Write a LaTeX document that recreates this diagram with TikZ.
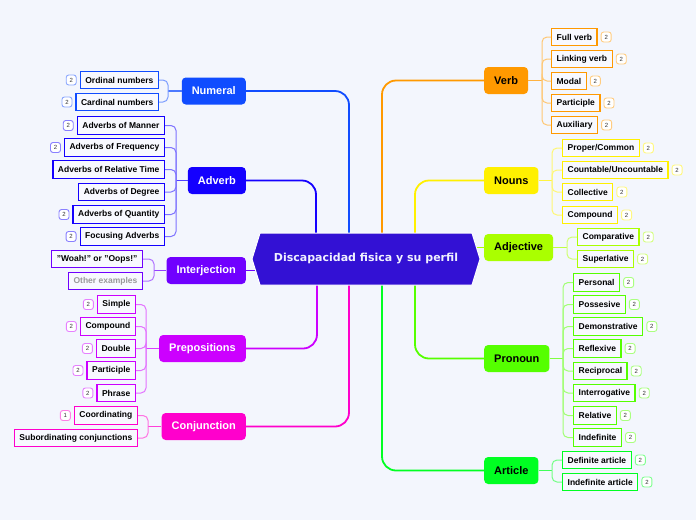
\documentclass[tikz,border=0pt]{standalone}
\usepackage{fontspec}
\setmainfont{Liberation Sans}
\newfontfamily\hexfont{DejaVu Sans}
\definecolor{bgC}{RGB}{243,246,253}
\definecolor{leafbg}{RGB}{248,249,255}
\definecolor{centerC}{RGB}{51,17,212}
\definecolor{numC}{RGB}{16,76,255}
\definecolor{advC}{RGB}{20,0,255}
\definecolor{intC}{RGB}{112,0,255}
\definecolor{prepC}{RGB}{204,0,255}
\definecolor{conjC}{RGB}{255,0,204}
\definecolor{verbC}{RGB}{255,153,0}
\definecolor{nounC}{RGB}{255,240,0}
\definecolor{adjC}{RGB}{170,255,0}
\definecolor{proC}{RGB}{85,255,0}
\definecolor{artC}{RGB}{0,255,34}
\tikzset{
  mainbox/.style={fill=#1, rounded corners=4pt, minimum height=27pt, inner xsep=10pt, inner ysep=0pt, font=\bfseries\fontsize{11}{13}\selectfont, text=white},
  leaf/.style={draw=#1, line width=1.3pt, fill=leafbg, minimum height=17.5pt, inner xsep=5pt, inner ysep=0pt, font=\bfseries\fontsize{8.5}{10}\selectfont, text=black},
  badge/.style={draw=#1!50!white, line width=0.9pt, fill=white, rounded corners=2.5pt, minimum size=10pt, inner sep=0pt, font=\fontsize{6}{7}\selectfont, text=black!80},
  mainline/.style={draw=#1, line width=1.8pt, rounded corners=14pt},
  stub/.style={draw=#1!75!white, line width=1.2pt},
  subline/.style={draw=#1!55!white, line width=1pt, rounded corners=5pt}
}
\begin{document}
\begin{tikzpicture}[x=1pt,y=-1pt]
\useasboundingbox[fill=bgC] (0,0) rectangle (696,520);

% ---------- hub coordinates on hexagon ----------
\coordinate (hNum) at (349,233);
\coordinate (hAdv) at (316,233);
\coordinate (hInt) at (255.4,270.5);
\coordinate (hPrep) at (317,285);
\coordinate (hConj) at (349,285);
\coordinate (hVerb) at (382,233);
\coordinate (hNoun) at (415,233);
\coordinate (hAdj) at (476.6,247.5);
\coordinate (hPro) at (415,285);
\coordinate (hArt) at (382,285);

% ---------- main nodes ----------
\node[mainbox=numC, anchor=east] (num) at (246,91) {Numeral};
\node[mainbox=advC, anchor=east] (adv) at (246,180.5) {Adverb};
\node[mainbox=intC, anchor=east] (int) at (246,270.5) {Interjection};
\node[mainbox=prepC, anchor=east] (prep) at (246,348.5) {Prepositions};
\node[mainbox=conjC, anchor=east] (conj) at (246,426.5) {Conjunction};
\node[mainbox=verbC, anchor=west, text=black] (verb) at (484,80.5) {Verb};
\node[mainbox=nounC, anchor=west, text=black] (noun) at (484,180.5) {Nouns};
\node[mainbox=adjC, anchor=west, text=black] (adj) at (484,247.5) {Adjective};
\node[mainbox=proC, anchor=west, text=black] (pro) at (484,358.5) {Pronoun};
\node[mainbox=artC, anchor=west, text=black] (art) at (484,470.5) {Article};

% ---------- main connectors ----------
\draw[mainline=numC] (num.east) -| (hNum);
\draw[mainline=advC] (adv.east) -| (hAdv);
\draw[mainline=intC] (int.east) -- (hInt);
\draw[mainline=prepC] (prep.east) -| (hPrep);
\draw[mainline=conjC] (conj.east) -| (hConj);
\draw[mainline=verbC] (verb.west) -| (hVerb);
\draw[mainline=nounC] (noun.west) -| (hNoun);
\draw[mainline=adjC] (adj.west) -- (hAdj);
\draw[mainline=proC] (pro.west) -| (hPro);
\draw[mainline=artC] (art.west) -| (hArt);

% ---------- center hexagon ----------
\path[fill=centerC, draw=white, line width=1pt] (260,233) -- (472,233) -- (480,259) -- (472,285) -- (260,285) -- (252,259) -- cycle;
\node[text=white!94!blue, font=\hexfont\bfseries\fontsize{11}{13}\selectfont] (center) at (366,259) {Discapacidad fisica y su perfil};

% ---------- Numeral children ----------
\node[leaf=numC, anchor=east] (ord) at (159,80) {Ordinal numbers};
\node[leaf=numC, anchor=east] (card) at (159,102) {Cardinal numbers};
\coordinate (bNum) at (168,91);
\draw[stub=numC] (num.west) -- (bNum);
\foreach \c in {ord,card} \draw[subline=numC] (bNum) |- (\c.east);

% ---------- Adverb children ----------
\node[leaf=advC, anchor=east] (a1) at (165,125.5) {Adverbs of Manner};
\node[leaf=advC, anchor=east] (a2) at (165,147.5) {Adverbs of Frequency};
\node[leaf=advC, anchor=east] (a3) at (165,169.5) {Adverbs of Relative Time};
\node[leaf=advC, anchor=east] (a4) at (165,192) {Adverbs of Degree};
\node[leaf=advC, anchor=east] (a5) at (165,214.5) {Adverbs of Quantity};
\node[leaf=advC, anchor=east] (a6) at (165,236.5) {Focusing Adverbs};
\coordinate (bAdv) at (176,180.5);
\draw[stub=advC] (adv.west) -- (bAdv);
\foreach \c in {a1,a2,a3,a4,a5,a6} \draw[subline=advC] (bAdv) |- (\c.east);

% ---------- Interjection children ----------
\node[leaf=intC, anchor=east] (i1) at (143,259) {"Woah!" or "Oops!"};
\node[leaf=intC, anchor=east, text=black!40] (i2) at (143,281) {Other examples};
\coordinate (bInt) at (154,270.5);
\draw[stub=intC] (int.west) -- (bInt);
\foreach \c in {i1,i2} \draw[subline=intC] (bInt) |- (\c.east);

% ---------- Prepositions children ----------
\node[leaf=prepC, anchor=east] (p1) at (136,304.5) {Simple};
\node[leaf=prepC, anchor=east] (p2) at (136,326.5) {Compound};
\node[leaf=prepC, anchor=east] (p3) at (136,348.5) {Double};
\node[leaf=prepC, anchor=east] (p4) at (136,370.5) {Participle};
\node[leaf=prepC, anchor=east] (p5) at (136,393) {Phrase};
\coordinate (bPrep) at (146,348.5);
\draw[stub=prepC] (prep.west) -- (bPrep);
\foreach \c in {p1,p2,p3,p4,p5} \draw[subline=prepC] (bPrep) |- (\c.east);

% ---------- Conjunction children ----------
\node[leaf=conjC, anchor=east] (c1) at (138,415.5) {Coordinating};
\node[leaf=conjC, anchor=east] (c2) at (138,438) {Subordinating conjunctions};
\coordinate (bConj) at (148,426.5);
\draw[stub=conjC] (conj.west) -- (bConj);
\foreach \c in {c1,c2} \draw[subline=conjC] (bConj) |- (\c.east);

% ---------- Verb children ----------
\node[leaf=verbC, anchor=west] (v1) at (551,37) {Full verb};
\node[leaf=verbC, anchor=west] (v2) at (551,59) {Linking verb};
\node[leaf=verbC, anchor=west] (v3) at (551,81) {Modal};
\node[leaf=verbC, anchor=west] (v4) at (551,103) {Participle};
\node[leaf=verbC, anchor=west] (v5) at (551,125) {Auxiliary};
\coordinate (bVerb) at (542,80.5);
\draw[stub=verbC] (verb.east) -- (bVerb);
\foreach \c in {v1,v2,v3,v4,v5} \draw[subline=verbC] (bVerb) |- (\c.west);

% ---------- Nouns children ----------
\node[leaf=nounC, anchor=west] (n1) at (562,148) {Proper/Common};
\node[leaf=nounC, anchor=west] (n2) at (562,170) {Countable/Uncountable};
\node[leaf=nounC, anchor=west] (n3) at (562,192) {Collective};
\node[leaf=nounC, anchor=west] (n4) at (562,215) {Compound};
\coordinate (bNoun) at (552,180.5);
\draw[stub=nounC] (noun.east) -- (bNoun);
\foreach \c in {n1,n2,n3,n4} \draw[subline=nounC] (bNoun) |- (\c.west);

% ---------- Adjective children ----------
\node[leaf=adjC, anchor=west] (j1) at (577,237) {Comparative};
\node[leaf=adjC, anchor=west] (j2) at (577,259) {Superlative};
\coordinate (bAdj) at (567,247.5);
\draw[stub=adjC] (adj.east) -- (bAdj);
\foreach \c in {j1,j2} \draw[subline=adjC] (bAdj) |- (\c.west);

% ---------- Pronoun children ----------
\node[leaf=proC, anchor=west] (r1) at (573,282.5) {Personal};
\node[leaf=proC, anchor=west] (r2) at (573,304.5) {Possesive};
\node[leaf=proC, anchor=west] (r3) at (573,326.5) {Demonstrative};
\node[leaf=proC, anchor=west] (r4) at (573,348.5) {Reflexive};
\node[leaf=proC, anchor=west] (r5) at (573,371) {Reciprocal};
\node[leaf=proC, anchor=west] (r6) at (573,393) {Interrogative};
\node[leaf=proC, anchor=west] (r7) at (573,415.5) {Relative};
\node[leaf=proC, anchor=west] (r8) at (573,437.5) {Indefinite};
\coordinate (bPro) at (563,358.5);
\draw[stub=proC] (pro.east) -- (bPro);
\foreach \c in {r1,r2,r3,r4,r5,r6,r7,r8} \draw[subline=proC] (bPro) |- (\c.west);

% ---------- Article children ----------
\node[leaf=artC, anchor=west] (t1) at (562,460) {Definite article};
\node[leaf=artC, anchor=west] (t2) at (562,482) {Indefinite article};
\coordinate (bArt) at (552,470.5);
\draw[stub=artC] (art.east) -- (bArt);
\foreach \c in {t1,t2} \draw[subline=artC] (bArt) |- (\c.west);

% ---------- badges (left) ----------
\foreach \c/\col in {ord/numC,card/numC,a1/advC,a2/advC,a5/advC,a6/advC,p1/prepC,p2/prepC,p3/prepC,p4/prepC,p5/prepC}
  \node[badge=\col, anchor=east] (bd\c) at ([xshift=-3pt]\c.west) {2};
\node[badge=conjC, anchor=east] (bdc1) at ([xshift=-3pt]c1.west) {1};

% ---------- badges (right) ----------
\foreach \c/\col in {v1/verbC,v2/verbC,v3/verbC,v4/verbC,v5/verbC,n1/nounC,n2/nounC,n3/nounC,n4/nounC,j1/adjC,j2/adjC,r1/proC,r2/proC,r3/proC,r4/proC,r5/proC,r6/proC,r7/proC,r8/proC,t1/artC,t2/artC}
  \node[badge=\col, anchor=west] (bd\c) at ([xshift=3pt]\c.east) {2};
\end{tikzpicture}
\end{document}
